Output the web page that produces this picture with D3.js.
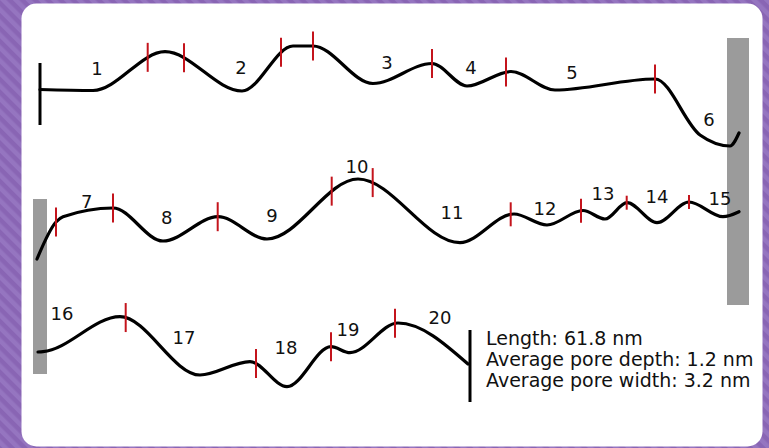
<!DOCTYPE html>
<html>
<head>
<meta charset="utf-8">
<script src="https://cdn.jsdelivr.net/npm/d3@7"></script>
<style>
  html, body { margin: 0; padding: 0; background: #8a67b5; overflow: hidden; }
  svg { display: block; }
</style>
</head>
<body>
<svg id="chart" width="769" height="448"></svg>
<script>
// Surface profile of a pore wall, drawn in three rows.
// x = position along the row (nm), h = surface height (nm); points are the crests and troughs.

// Row 1
const row1X = [0, 5.3, 12.5, 20.2, 25.3, 27.3, 33.3, 39.2, 42.7, 47.1, 51.5, 61.5, 66.0, 69.0, 69.9];
const row1H = [6.05, 5.95, 9.83, 5.9, 10.4, 10.4, 6.65, 8.65, 6.4, 7.85, 6.0, 7.1, 1.5, 0.4, 1.7];
const row1Ticks = [10.77, 14.4, 24.1, 27.3, 39.2, 46.6, 61.5];
const row1Labels = ["1", "2", "3", "4", "5", "6"];
const row1LabelX = [5.7, 20.1, 34.7, 43.1, 53.2, 66.9];
const row1LabelH = [8.1, 8.23, 8.7, 8.23, 7.73, 3.0];

// Row 2
const row2X = [-0.3, 1.6, 2.3, 7.3, 12.3, 17.8, 22.7, 31.8, 42.0, 47.4, 50.7, 54.3, 56.5, 58.7, 61.7, 64.9, 68.3, 69.9];
const row2H = [1.1, 4.8, 5.33, 6.2, 2.9, 5.33, 3.1, 9.1, 2.73, 5.6, 4.5, 5.95, 5.1, 6.73, 4.73, 6.8, 5.33, 5.83];
const row2Ticks = [1.6, 7.3, 17.77, 29.17, 33.27, 47.07, 54.1, 58.67, 64.9];
const row2Labels = ["7", "8", "9", "10", "11", "12", "13", "14", "15"];
const row2LabelX = [4.67, 12.67, 23.2, 31.7, 41.2, 50.5, 56.3, 61.7, 68.0];
const row2LabelH = [6.83, 5.2, 5.4, 10.33, 5.73, 6.17, 7.6, 7.33, 7.17];

// Row 3
const row3X = [-0.2, 0.3, 8.0, 16.0, 21.0, 24.7, 29.1, 31.0, 35.8, 42.8];
const row3H = [4.8, 4.83, 8.33, 2.5, 3.83, 1.33, 5.33, 4.73, 7.7, 3.6];
const row3Ticks = [8.57, 21.6, 29.1, 35.5];
const row3Labels = ["16", "17", "18", "19", "20"];
const row3LabelX = [2.2, 14.4, 24.6, 30.8, 40.0];
const row3LabelH = [8.6, 6.23, 5.27, 7.0, 8.27];

// Start and end markers of the profile: [x, hTop, hBottom]
const startMarker = [0, 8.7, 2.5];
const endMarker = [43.0, 7.0, -0.2];

// Walls where the profile wraps between rows: x range and height range in the rows they join
const wallRight = { x: [68.7, 70.9], hTop: 11.2, hBottom: -3.5 };   // row 1 -> row 2
const wallLeft  = { x: [-0.7, 0.7],  hTop: 7.1,  hBottom: 2.6 };    // row 2 -> row 3

// Summary statistics
const summaryLines = ["Length: 61.8 nm", "Average pore depth: 1.2 nm", "Average pore width: 3.2 nm"];

// Short markers on the finer, right-hand part of row 2
const smallTickFrom = 58;

const W = 769, H = 448;
const FONT = "'DejaVu Sans', Verdana, sans-serif";
const svg = d3.select("#chart");

// Background with diagonal stripes
const defs = svg.append("defs");
const pat = defs.append("pattern")
  .attr("id", "stripes").attr("patternUnits", "userSpaceOnUse")
  .attr("width", 9).attr("height", 9)
  .attr("patternTransform", "rotate(-45)");
pat.append("rect").attr("width", 9).attr("height", 9).attr("fill", "#8965b4");
pat.append("rect").attr("width", 4.5).attr("height", 9).attr("fill", "#9575c0");
svg.append("rect").attr("width", W).attr("height", H).attr("fill", "url(#stripes)");

// White panel
svg.append("rect")
  .attr("x", 21.5).attr("y", 3.5).attr("width", 741).attr("height", 443)
  .attr("rx", 15).attr("ry", 15).attr("fill", "#ffffff");

// Scales
const x = d3.scaleLinear().domain([0, 70]).range([40, 740]);
const yRow = [
  d3.scaleLinear().domain([0, 10]).range([150, 50]),
  d3.scaleLinear().domain([0, 10]).range([270, 170]),
  d3.scaleLinear().domain([0, 10]).range([400, 300])
];

const wallColor = "#9b9b9b";
const lineColor = "#000000";
const tickColor = "#c4141c";

// Walls
svg.append("rect")
  .attr("x", x(wallRight.x[0])).attr("width", x(wallRight.x[1]) - x(wallRight.x[0]))
  .attr("y", yRow[0](wallRight.hTop))
  .attr("height", yRow[1](wallRight.hBottom) - yRow[0](wallRight.hTop))
  .attr("fill", wallColor);
svg.append("rect")
  .attr("x", x(wallLeft.x[0])).attr("width", x(wallLeft.x[1]) - x(wallLeft.x[0]))
  .attr("y", yRow[1](wallLeft.hTop))
  .attr("height", yRow[2](wallLeft.hBottom) - yRow[1](wallLeft.hTop))
  .attr("fill", wallColor);

const rows = [
  { xs: row1X, hs: row1H, ticks: row1Ticks, labels: row1Labels, lx: row1LabelX, lh: row1LabelH },
  { xs: row2X, hs: row2H, ticks: row2Ticks, labels: row2Labels, lx: row2LabelX, lh: row2LabelH },
  { xs: row3X, hs: row3H, ticks: row3Ticks, labels: row3Labels, lx: row3LabelX, lh: row3LabelH }
];

// Find the on-screen y of a path at a given screen x (paths run left to right)
function yAtX(node, px) {
  const total = node.getTotalLength();
  let lo = 0, hi = total;
  for (let i = 0; i < 40; i++) {
    const mid = (lo + hi) / 2;
    const p = node.getPointAtLength(mid);
    if (p.x < px) lo = mid; else hi = mid;
  }
  return node.getPointAtLength((lo + hi) / 2).y;
}

rows.forEach((row, r) => {
  const y = yRow[r];
  const pts = row.xs.map((v, i) => [v, row.hs[i]]);
  const line = d3.line().x(d => x(d[0])).y(d => y(d[1])).curve(d3.curveMonotoneX);
  const g = svg.append("g");
  const path = g.append("path")
    .attr("d", line(pts))
    .attr("fill", "none").attr("stroke", lineColor)
    .attr("stroke-width", 3.2).attr("stroke-linecap", "round");

  // Segment boundary markers
  const node = path.node();
  row.ticks.forEach(t => {
    const px = x(t);
    const py = yAtX(node, px);
    const len = (r === 1 && t > smallTickFrom) ? 14 : (r === 1 && t > 45 ? 24 : 29);
    g.append("line")
      .attr("x1", px).attr("x2", px)
      .attr("y1", py - len / 2).attr("y2", py + len / 2)
      .attr("stroke", tickColor).attr("stroke-width", 2);
  });

  // Segment numbers
  g.selectAll("text.seg").data(row.labels).join("text")
    .attr("class", "seg")
    .attr("x", (d, i) => x(row.lx[i]))
    .attr("y", (d, i) => y(row.lh[i]))
    .attr("dy", "0.36em")
    .attr("text-anchor", "middle")
    .attr("font-family", FONT)
    .attr("font-size", 18)
    .attr("fill", "#111")
    .text(d => d);
});

// Start and end markers
svg.append("line")
  .attr("x1", x(startMarker[0])).attr("x2", x(startMarker[0]))
  .attr("y1", yRow[0](startMarker[1])).attr("y2", yRow[0](startMarker[2]))
  .attr("stroke", lineColor).attr("stroke-width", 3);
svg.append("line")
  .attr("x1", x(endMarker[0])).attr("x2", x(endMarker[0]))
  .attr("y1", yRow[2](endMarker[1])).attr("y2", yRow[2](endMarker[2]))
  .attr("stroke", lineColor).attr("stroke-width", 3);

// Summary text
const tx = x(endMarker[0]) + 16;
const ty0 = yRow[2](endMarker[1]) + 15;
svg.append("g").selectAll("text").data(summaryLines).join("text")
  .attr("x", tx)
  .attr("y", (d, i) => ty0 + i * 21)
  .attr("font-family", FONT)
  .attr("font-size", 19)
  .attr("fill", "#111")
  .text(d => d);
</script>
</body>
</html>
